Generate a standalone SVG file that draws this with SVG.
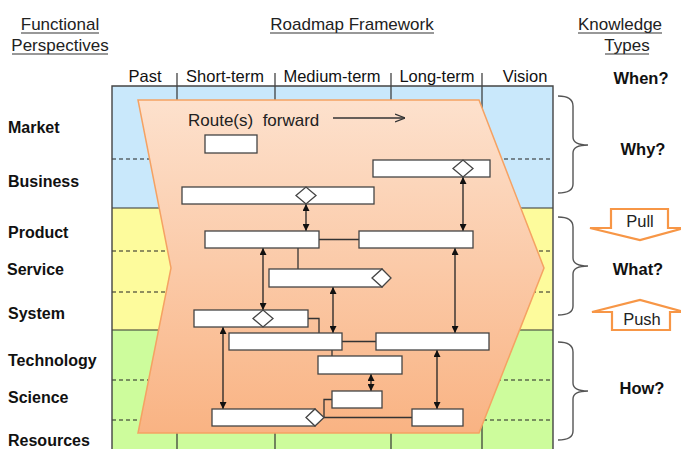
<svg xmlns="http://www.w3.org/2000/svg" width="681" height="449" viewBox="0 0 681 449">
<style>
.hd{font-family:"Liberation Sans",Arial,sans-serif;font-size:17px;fill:#222;text-anchor:middle}
.col{font-family:"Liberation Sans",Arial,sans-serif;font-size:16.5px;fill:#111;text-anchor:middle}
.lbl{font-family:"Liberation Sans",Arial,sans-serif;font-size:16px;font-weight:bold;fill:#111}
.kt{font-family:"Liberation Sans",Arial,sans-serif;font-size:16.5px;font-weight:bold;fill:#111;text-anchor:middle}
.pp{font-family:"Liberation Sans",Arial,sans-serif;font-size:16.5px;fill:#222;text-anchor:middle}
.ul{stroke:#333;stroke-width:1.2}
.sep{stroke:#333;stroke-width:1.2}
.dash{stroke:#222;stroke-width:1.2;stroke-dasharray:4 3}
.box{fill:#fff;stroke:#444;stroke-width:1.3}
.con{fill:none;stroke:#333;stroke-width:1.3}
.arr{fill:none;stroke:#222;stroke-width:1.3;marker-start:url(#ah);marker-end:url(#ah)}
.brace{fill:none;stroke:#555;stroke-width:1.4}
.blk{fill:#fff;stroke:#f79646;stroke-width:2.2;stroke-linejoin:miter}
</style>
<defs>
<linearGradient id="og" x1="0" y1="0" x2="0" y2="1">
<stop offset="0" stop-color="#fde1cd"/>
<stop offset="1" stop-color="#f9b383"/>
</linearGradient>
<marker id="ah" viewBox="0 0 10 10" refX="10" refY="5" markerWidth="7" markerHeight="7" markerUnits="userSpaceOnUse" orient="auto-start-reverse">
<path d="M0,0 L10,5 L0,10 Z" fill="#111"/>
</marker>
<marker id="oa" viewBox="0 0 10 10" refX="10" refY="5" markerWidth="10" markerHeight="10" markerUnits="userSpaceOnUse" orient="auto">
<path d="M0,1 L10,5 L0,9" fill="none" stroke="#333" stroke-width="1.3"/>
</marker>
</defs>
<rect width="681" height="449" fill="#fff"/>

<g id="headers">
<text class="hd" x="60" y="30">Functional</text>
<line class="ul" x1="21" y1="33" x2="99" y2="33"/>
<text class="hd" x="60" y="51">Perspectives</text>
<line class="ul" x1="12" y1="54" x2="108" y2="54"/>
<text class="hd" x="352" y="30">Roadmap  Framework</text>
<line class="ul" x1="270" y1="33" x2="434" y2="33"/>
<text class="hd" x="620" y="30">Knowledge</text>
<line class="ul" x1="578" y1="33" x2="662" y2="33"/>
<text class="hd" x="627" y="51">Types</text>
<line class="ul" x1="605" y1="54" x2="649" y2="54"/>
</g>

<g id="grid">
<rect x="112" y="86" width="441" height="122" fill="#c9e8fb"/>
<rect x="112" y="208" width="441" height="122" fill="#fdfb9c"/>
<rect x="112" y="330" width="441" height="125" fill="#cdfc9c"/>
<line class="sep" x1="112" y1="208" x2="553" y2="208"/>
<line class="sep" x1="112" y1="330" x2="553" y2="330"/>
<line class="dash" x1="112" y1="159" x2="553" y2="159"/>
<line class="dash" x1="112" y1="251" x2="553" y2="251"/>
<line class="dash" x1="112" y1="292" x2="553" y2="292"/>
<line class="dash" x1="112" y1="380" x2="553" y2="380"/>
<line class="dash" x1="112" y1="420" x2="553" y2="420"/>
<line class="sep" x1="177" y1="73" x2="177" y2="455"/>
<line class="sep" x1="275" y1="73" x2="275" y2="455"/>
<line class="sep" x1="391" y1="73" x2="391" y2="455"/>
<line class="sep" x1="482" y1="73" x2="482" y2="455"/>
<path d="M112,455 L112,86 L553,86 L553,455" fill="none" stroke="#444" stroke-width="1.4"/>
</g>

<g id="columns">
<text class="col" x="145" y="82">Past</text>
<text class="col" x="225" y="82">Short-term</text>
<text class="col" x="332" y="82">Medium-term</text>
<text class="col" x="437" y="82">Long-term</text>
<text class="col" x="525" y="82">Vision</text>
</g>

<g id="perspectives">
<text class="lbl" x="8" y="133">Market</text>
<text class="lbl" x="8" y="187">Business</text>
<text class="lbl" x="8" y="238">Product</text>
<text class="lbl" x="7" y="275">Service</text>
<text class="lbl" x="8" y="319">System</text>
<text class="lbl" x="8" y="366">Technology</text>
<text class="lbl" x="8" y="403">Science</text>
<text class="lbl" x="8" y="446">Resources</text>
</g>

<g id="chevron">
<polygon points="138,100 479,100 544,268 479,433 138,433 171,268" fill="url(#og)" stroke="#f5a263" stroke-width="1.5"/>
<text x="188" y="126" font-family="Liberation Sans, Arial, sans-serif" font-size="17" fill="#222" xml:space="preserve">Route(s)  forward</text>
<line x1="333" y1="118" x2="405" y2="118" stroke="#333" stroke-width="1.3" marker-end="url(#oa)"/>
</g>

<g id="connectors">
<line class="con" x1="319" y1="239.5" x2="359" y2="239.5"/>
<line class="con" x1="298" y1="248" x2="298" y2="269"/>
<polyline class="con" points="308,318.5 319,318.5 319,333"/>
<line class="con" x1="342" y1="341.5" x2="376" y2="341.5"/>
<line class="con" x1="332" y1="350" x2="332" y2="356"/>
<polyline class="con" points="332,399.5 324,399.5 324,417.5"/>
<line class="con" x1="324" y1="417.5" x2="412" y2="417.5"/>
<line class="arr" x1="306" y1="204" x2="306" y2="231"/>
<line class="arr" x1="463" y1="177" x2="463" y2="231"/>
<line class="arr" x1="263" y1="248" x2="263" y2="310"/>
<line class="arr" x1="333" y1="287" x2="333" y2="333"/>
<line class="arr" x1="455" y1="248" x2="455" y2="333"/>
<line class="arr" x1="371" y1="374" x2="371" y2="391"/>
<line class="arr" x1="437" y1="350" x2="437" y2="409"/>
<line class="arr" x1="223" y1="327" x2="223" y2="409"/>
</g>

<g id="b1"><rect class="box" x="205" y="135" width="52" height="18"/></g>
<g id="b2"><rect class="box" x="373" y="160" width="117" height="17"/><polygon class="box" points="453,168.5 463,160 473,168.5 463,177"/></g>
<g id="b3"><rect class="box" x="182" y="187" width="192" height="17"/><polygon class="box" points="296,195.5 306,187 316,195.5 306,204"/></g>
<g id="b4"><rect class="box" x="205" y="231" width="114" height="17"/></g>
<g id="b5"><rect class="box" x="359" y="231" width="114" height="17"/></g>
<g id="b6"><rect class="box" x="269" y="269" width="113" height="18"/><polygon class="box" points="372,278 382,269 391,278 382,287"/></g>
<g id="b7"><rect class="box" x="194" y="310" width="114" height="17"/><polygon class="box" points="253,318.5 263,310 273,318.5 263,327"/></g>
<g id="b8"><rect class="box" x="229" y="333" width="113" height="17"/></g>
<g id="b9"><rect class="box" x="376" y="333" width="113" height="17"/></g>
<g id="b10"><rect class="box" x="318" y="356" width="84" height="18"/></g>
<g id="b11"><rect class="box" x="332" y="391" width="50" height="17"/></g>
<g id="b12"><rect class="box" x="212" y="409" width="103" height="17"/><polygon class="box" points="306,417.5 315,409 324,417.5 315,426"/></g>
<g id="b13"><rect class="box" x="412" y="409" width="51" height="17"/></g>

<g id="braces">
<path class="brace" d="M558,96 Q573,96 573,106 L573,137 Q573,145 588,145 Q573,145 573,153 L573,184 Q573,193 558,193"/>
<path class="brace" d="M558,217 Q573,217 573,227 L573,258 Q573,266 588,266 Q573,266 573,274 L573,306 Q573,315 558,315"/>
<path class="brace" d="M558,342 Q573,342 573,352 L573,383 Q573,391 588,391 Q573,391 573,399 L573,431 Q573,440 558,440"/>
</g>

<g id="knowledge">
<text class="kt" x="641" y="84">When?</text>
<text class="kt" x="643" y="155">Why?</text>
<text class="kt" x="638" y="275">What?</text>
<text class="kt" x="642" y="394">How?</text>
</g>

<g id="pull">
<polygon class="blk" points="611,209 668,209 668,228 684,228 640,240 590,228 611,228"/>
<text class="pp" x="640" y="227">Pull</text>
</g>
<g id="push">
<polygon class="blk" points="612,330 670,330 670,312 684,312 640,300 592,312 612,312"/>
<text class="pp" x="642" y="325">Push</text>
</g>
</svg>
